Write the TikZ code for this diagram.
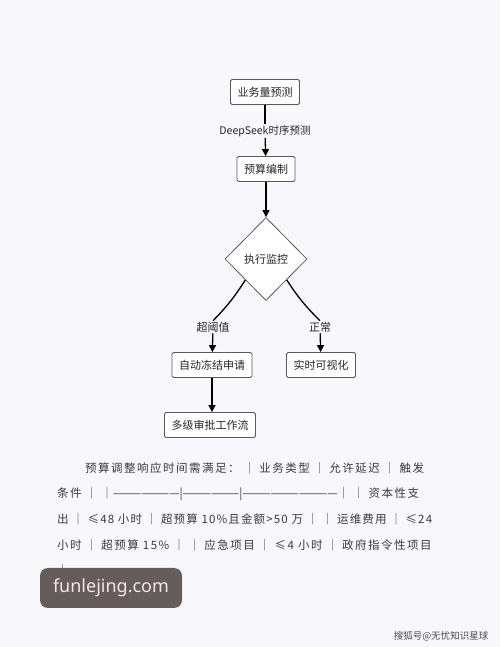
\documentclass[tikz,border=0pt]{standalone}
\usepackage{fontspec}
\setmainfont{Noto Sans CJK SC}
\newfontfamily\cjk{Noto Sans CJK SC}
\newfontfamily\bodycjk[LetterSpace=13]{Noto Sans CJK SC}
\newfontfamily\latinsans{Noto Sans}
\usetikzlibrary{shapes.geometric,arrows.meta}
\definecolor{bgcol}{HTML}{F8F8FC}
\definecolor{boxline}{HTML}{5A5A5A}
\definecolor{bodytext}{HTML}{3A3A3A}
\definecolor{markbg}{HTML}{655D5B}
\definecolor{marktext}{HTML}{F2E6E6}
\tikzset{
  stepbox/.style={draw=boxline, line width=0.8pt, rounded corners=1.5pt, fill=white,
    inner xsep=7pt, inner ysep=0pt, minimum height=25pt,
    font=\cjk\fontsize{11}{11}\selectfont, text=black!85},
  checkbox/.style={draw=boxline, line width=0.8pt, diamond, fill=white, inner sep=0pt,
    minimum width=82pt, minimum height=83pt, font=\cjk\fontsize{11}{11}\selectfont, text=black!85},
  edgelabel/.style={inner sep=1pt, font=\cjk\fontsize{11}{11}\selectfont, text=black!85},
  flowline/.style={line width=1.3pt, black},
  flowarrow/.style={flowline, -{Triangle[length=7pt,width=7pt]}},
  bodyline/.style={anchor=west, inner sep=0pt, text height=9pt, text depth=2.5pt,
    font=\bodycjk\fontsize{11.5}{11.5}\selectfont, text=bodytext}
}
\newcommand{\dashrun}[1]{{\cjk #1}}
\begin{document}
\begin{tikzpicture}[x=1pt,y=1pt]
		%%%%% START %%%%%
		\fill[bgcol] (0,0) rectangle (500,647);
		\useasboundingbox (0,0) rectangle (500,647);
		
		% flow chart
		\node[stepbox] (forecast) at (265,555) {业务量预测};
		\node[edgelabel, font=\cjk\fontsize{10.5}{10.5}\selectfont] (dslabel) at (265,516) {DeepSeek时序预测};
		\node[stepbox] (budget) at (266,478) {预算编制};
		\node[checkbox] (monitor) at (266,388) {执行监控};
		\node[edgelabel] (overlabel) at (213,320) {超阈值};
		\node[edgelabel] (normlabel) at (320,320) {正常};
		\node[stepbox] (freeze) at (212,282) {自动冻结申请};
		\node[stepbox] (visual) at (321,282) {实时可视化};
		\node[stepbox] (approve) at (210,222) {多级审批工作流};
		
		\draw[flowline] (forecast) -- (dslabel);
		\draw[flowarrow] (dslabel) -- (budget);
		\draw[flowarrow] (budget) -- (monitor);
		\draw[flowline] (monitor.south west) to[bend left=6] (overlabel.north);
		\draw[flowarrow] (overlabel) -- (freeze);
		\draw[flowline] (monitor.south east) to[bend right=6] (normlabel.north);
		\draw[flowarrow] (normlabel) -- (visual);
		\draw[flowarrow] (freeze.south) -- (freeze.south |- approve.north);
		
		% paragraph under the chart
		\node[bodyline] (row1) at (85,178) {预算调整响应时间需满足： ｜ 业务类型 ｜ 允许延迟 ｜ 触发};
		\node[bodyline] (row2) at (57,153) {条件 ｜ ｜\dashrun{———————|——————|——————————}｜ ｜ 资本性支};
		\node[bodyline, font=\bodycjk\addfontfeature{LetterSpace=10}\fontsize{11.5}{11.5}\selectfont] (row3) at (57,127) {出 ｜ ≤48 小时 ｜ 超预算 10\%且金额>50 万 ｜ ｜ 运维费用 ｜ ≤24};
		\node[bodyline] (row4) at (57,101) {小时 ｜ 超预算 15\% ｜ ｜ 应急项目 ｜ ≤4 小时 ｜ 政府指令性项目};
		\node[bodyline] (row5) at (57,76) {｜};
		
		% watermarks
		\node[fill=markbg, rounded corners=8pt, minimum width=142pt, minimum height=40pt, inner sep=0pt,
		  text=marktext, font=\latinsans\fontsize{18}{18}\selectfont] (site) at (111,59) {funlejing.com};
		\node[inner sep=0pt, text=black!70, font=\cjk\fontsize{9.5}{9.5}\selectfont] (sohu) at (441,11) {搜狐号@无忧知识星球};
		%%%%% END %%%%%
\end{tikzpicture}
\end{document}
